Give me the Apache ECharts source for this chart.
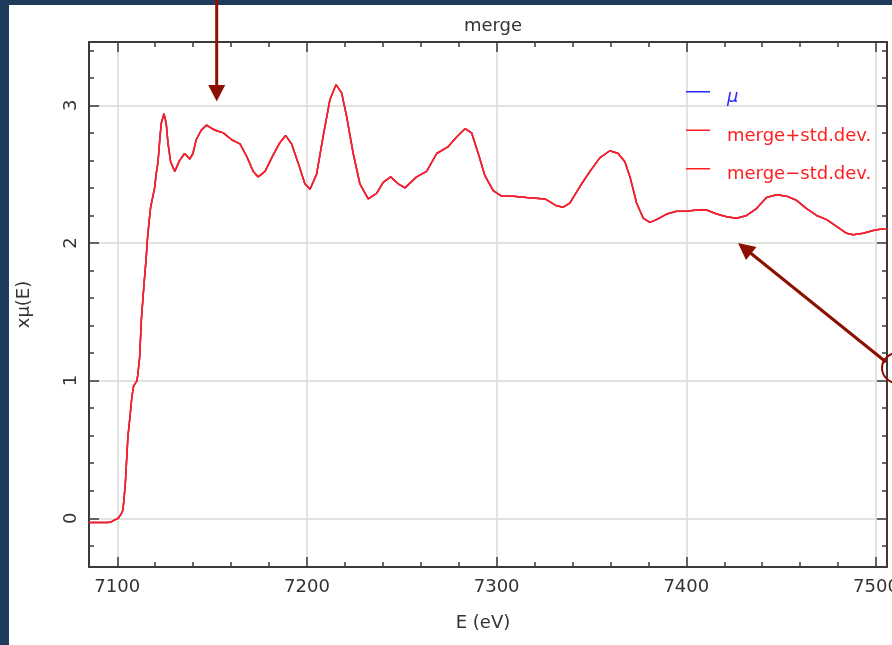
<!DOCTYPE html>
<html>
<head>
<meta charset="utf-8">
<script src="https://cdn.jsdelivr.net/npm/echarts@6/dist/echarts.min.js"></script>
<style>
  html, body { margin: 0; padding: 0; background: #ffffff; }
  #chart { width: 892px; height: 645px; }
</style>
</head>
<body>
<div id="chart"></div>
<script>
// Energy grid (eV) of the merged spectrum
const energy = [
  7085, 7090, 7095, 7097, 7099, 7100.5, 7102, 7103, 7104.2, 7105.6,
  7106.5, 7107.7, 7108.6, 7110.4, 7110.9, 7111.8, 7112.7, 7113.5, 7114.4, 7115.3,
  7115.8, 7116.6, 7117.6, 7118.8, 7119.7, 7120.6, 7121.5, 7122.4, 7123.2, 7124.6,
  7125.8, 7126.7, 7128.1, 7130.3, 7132.9, 7135.5, 7138.2, 7139.9, 7141.6, 7144.3,
  7147.1, 7150.0, 7152.4, 7155.9, 7160.3, 7164.7, 7168.2, 7171.7, 7174.3, 7177.9,
  7182.2, 7185.8, 7188.8, 7191.9, 7195.4, 7198.9, 7201.6, 7205.1, 7208.6, 7212.1,
  7215.3, 7218.3, 7220.9, 7224.4, 7227.9, 7232.3, 7236.7, 7240.2, 7244.1, 7248.1,
  7251.7, 7257.8, 7263.1, 7268.4, 7274.5, 7278.9, 7283.3, 7286.8, 7290.3, 7293.8,
  7298.2, 7302.6, 7308.8, 7315.8, 7325.5, 7331.6, 7335.1, 7338.6, 7343.9, 7349.2,
  7354.5, 7359.7, 7364.1, 7367.6, 7370.3, 7373.8, 7377.3, 7380.8, 7384.3, 7389.6,
  7394.9, 7400.2, 7405.4, 7410.7, 7416.0, 7421.2, 7426.5, 7431.8, 7437.0, 7442.3,
  7447.6, 7452.9, 7458.1, 7463.4, 7468.7, 7474.0, 7479.2, 7484.5, 7488.0, 7493.3,
  7498.5, 7502.1, 7506
];

// Merged x·mu(E); the std.dev. envelope lies on top of the mean at this scale
const muMerge = [
  -0.03, -0.03, -0.03, -0.025, -0.01, 0.0, 0.03, 0.06, 0.24, 0.59,
  0.71, 0.88, 0.96, 1.00, 1.05, 1.17, 1.44, 1.59, 1.75, 1.90,
  2.01, 2.13, 2.26, 2.34, 2.40, 2.51, 2.59, 2.75, 2.87, 2.94,
  2.87, 2.73, 2.59, 2.52, 2.60, 2.65, 2.61, 2.65, 2.75, 2.82,
  2.856, 2.83, 2.815, 2.80, 2.75, 2.72, 2.63, 2.52, 2.48, 2.52,
  2.64, 2.73, 2.78, 2.72, 2.58, 2.43, 2.39, 2.50, 2.78, 3.04,
  3.15, 3.09, 2.92, 2.65, 2.43, 2.32, 2.36, 2.44, 2.48, 2.43,
  2.40, 2.48, 2.52, 2.65, 2.70, 2.77, 2.83, 2.80, 2.65, 2.49,
  2.38, 2.34, 2.34, 2.33, 2.32, 2.27, 2.26, 2.29, 2.41, 2.52,
  2.62, 2.67, 2.65, 2.59, 2.48, 2.29, 2.18, 2.15, 2.17, 2.21,
  2.23, 2.23, 2.24, 2.24, 2.21, 2.19, 2.18, 2.20, 2.25, 2.33,
  2.35, 2.34, 2.31, 2.25, 2.20, 2.17, 2.12, 2.07, 2.06, 2.07,
  2.09, 2.10, 2.10
];

const seriesNames = ['μ', 'merge+std.dev.', 'merge−std.dev.'];

// Tick positions
const xMajorTicks = [7100, 7200, 7300, 7400, 7500];
const xMinorTicks = [7120, 7140, 7160, 7180, 7220, 7240, 7260, 7280, 7320, 7340,
                     7360, 7380, 7420, 7440, 7460, 7480];
const yMajorTicks = [0, 1, 2, 3];
const yMinorTicks = [-0.2, 0.2, 0.4, 0.6, 0.8, 1.2, 1.4, 1.6, 1.8, 2.2, 2.4, 2.6,
                     2.8, 3.2, 3.4];

const FONT = 'DejaVu Sans';
const TEXT = '#333333';
const AXIS = '#3a3a3a';
const GRID = '#d9d9d9';
const NOTE = '#8c1000';
const FRAME = '#1f3b5c';
const RED = '#ff2020';
const BLUE = '#2a2aff';

const pairs = energy.map((e, i) => [e, muMerge[i]]);

const X_MIN = 7085.1, X_MAX = 7505.8;
const Y_MIN = -0.354, Y_MAX = 3.46;

// legend swatch: a short line at the top of a taller box, so the label sits a little below it
const SWATCH = 'path://M0,0H24V1.5H0Z M0,13L0.01,13';

// extra axes that only carry tick marks (minor ticks, mirrored frame ticks)
function tickAxis(kind, position, values, len, showLine) {
  return {
    type: 'value',
    position: position,
    min: kind === 'x' ? X_MIN : Y_MIN,
    max: kind === 'x' ? X_MAX : Y_MAX,
    axisLine: { show: !!showLine, onZero: false, lineStyle: { color: AXIS, width: 2 } },
    axisTick: { show: true, inside: true, length: len, customValues: values,
                lineStyle: { color: AXIS, width: 1.5 } },
    axisLabel: { show: false },
    splitLine: { show: false }
  };
}

const chart = echarts.init(document.getElementById('chart'), null, { renderer: 'canvas' });

chart.setOption({
  backgroundColor: '#ffffff',
  animation: false,
  title: {
    text: 'merge',
    left: 488,
    textAlign: 'center',
    top: 12,
    textStyle: { fontFamily: FONT, fontSize: 18, fontWeight: 'normal', color: TEXT }
  },
  grid: { left: 89, top: 42, right: 5, bottom: 78, containLabel: false, outerBoundsMode: 'none' },
  legend: {
    orient: 'vertical',
    left: 686,
    top: 87.5,
    padding: 0,
    itemGap: 18.5,
    itemWidth: 24,
    itemHeight: 13,
    icon: SWATCH,
    selectedMode: false,
    textStyle: { fontFamily: FONT, fontSize: 18, lineHeight: 20, padding: [0, 0, 0, 12] },
    data: [
      { name: seriesNames[0], textStyle: { color: BLUE, fontStyle: 'italic' } },
      { name: seriesNames[1], textStyle: { color: RED } },
      { name: seriesNames[2], textStyle: { color: RED } }
    ]
  },
  xAxis: [
    {
      type: 'value',
      position: 'bottom',
      min: X_MIN,
      max: X_MAX,
      name: 'E (eV)',
      nameLocation: 'middle',
      nameGap: 47,
      nameTextStyle: { fontFamily: FONT, fontSize: 18, color: TEXT, padding: [0, 10, 0, 0] },
      axisLine: { show: true, onZero: false, lineStyle: { color: AXIS, width: 2 } },
      axisTick: { show: true, inside: true, length: 10, customValues: xMajorTicks,
                  lineStyle: { color: AXIS, width: 1.5 } },
      axisLabel: { show: true, customValues: xMajorTicks, margin: 11,
                   formatter: v => String(v),
                   fontFamily: FONT, fontSize: 18, color: TEXT },
      splitLine: { show: true, lineStyle: { color: GRID, width: 1.5 } }
    },
    tickAxis('x', 'bottom', xMinorTicks, 5, false),
    tickAxis('x', 'top', xMajorTicks, 10, true),
    tickAxis('x', 'top', xMinorTicks, 5, false)
  ],
  yAxis: [
    {
      type: 'value',
      position: 'left',
      min: Y_MIN,
      max: Y_MAX,
      name: 'xμ(E)',
      nameLocation: 'middle',
      nameGap: 56,
      nameRotate: 90,
      nameTextStyle: { fontFamily: FONT, fontSize: 18, color: TEXT },
      axisLine: { show: true, onZero: false, lineStyle: { color: AXIS, width: 2 } },
      axisTick: { show: true, inside: true, length: 10, customValues: yMajorTicks,
                  lineStyle: { color: AXIS, width: 1.5 } },
      axisLabel: { show: true, customValues: yMajorTicks, rotate: 90, margin: 9,
                   formatter: v => String(v),
                   fontFamily: FONT, fontSize: 18, color: TEXT },
      splitLine: { show: true, lineStyle: { color: GRID, width: 1.5 } }
    },
    tickAxis('y', 'left', yMinorTicks, 5, false),
    tickAxis('y', 'right', yMajorTicks, 10, true),
    tickAxis('y', 'right', yMinorTicks, 5, false)
  ],
  series: [
    {
      name: seriesNames[0], type: 'line', data: pairs, showSymbol: false,
      xAxisIndex: 0, yAxisIndex: 0,
      itemStyle: { color: BLUE }, lineStyle: { color: BLUE, width: 1.5 }, z: 2
    },
    {
      name: seriesNames[1], type: 'line', data: pairs, showSymbol: false,
      xAxisIndex: 0, yAxisIndex: 0,
      itemStyle: { color: RED }, lineStyle: { color: RED, width: 1.5 }, z: 3
    },
    {
      name: seriesNames[2], type: 'line', data: pairs, showSymbol: false,
      xAxisIndex: 0, yAxisIndex: 0,
      itemStyle: { color: RED }, lineStyle: { color: RED, width: 1.5 }, z: 4
    }
  ],
  graphic: [
    // page frame
    { type: 'rect', left: 0, top: 0, z: 50, shape: { width: 9, height: 645 }, style: { fill: FRAME } },
    { type: 'rect', left: 0, top: 0, z: 50, shape: { width: 892, height: 5 }, style: { fill: FRAME } },
    // callout arrow from the top edge
    { type: 'line', z: 60, shape: { x1: 216.7, y1: 0, x2: 216.7, y2: 88 },
      style: { stroke: NOTE, lineWidth: 3 } },
    { type: 'polygon', z: 60, shape: { points: [[208.2, 85], [225.2, 85], [216.7, 101.5]] },
      style: { fill: NOTE } },
    // callout arrow from the marker on the right edge
    { type: 'line', z: 60, shape: { x1: 886, y1: 362, x2: 748, y2: 251 },
      style: { stroke: NOTE, lineWidth: 3 } },
    { type: 'polygon', z: 60, shape: { points: [[738, 243], [746, 260], [756.5, 247]] },
      style: { fill: NOTE } },
    { type: 'ellipse', z: 60, shape: { cx: 899, cy: 368, rx: 17, ry: 15.5 },
      style: { fill: 'none', stroke: NOTE, lineWidth: 2 } }
  ]
});
</script>
</body>
</html>
